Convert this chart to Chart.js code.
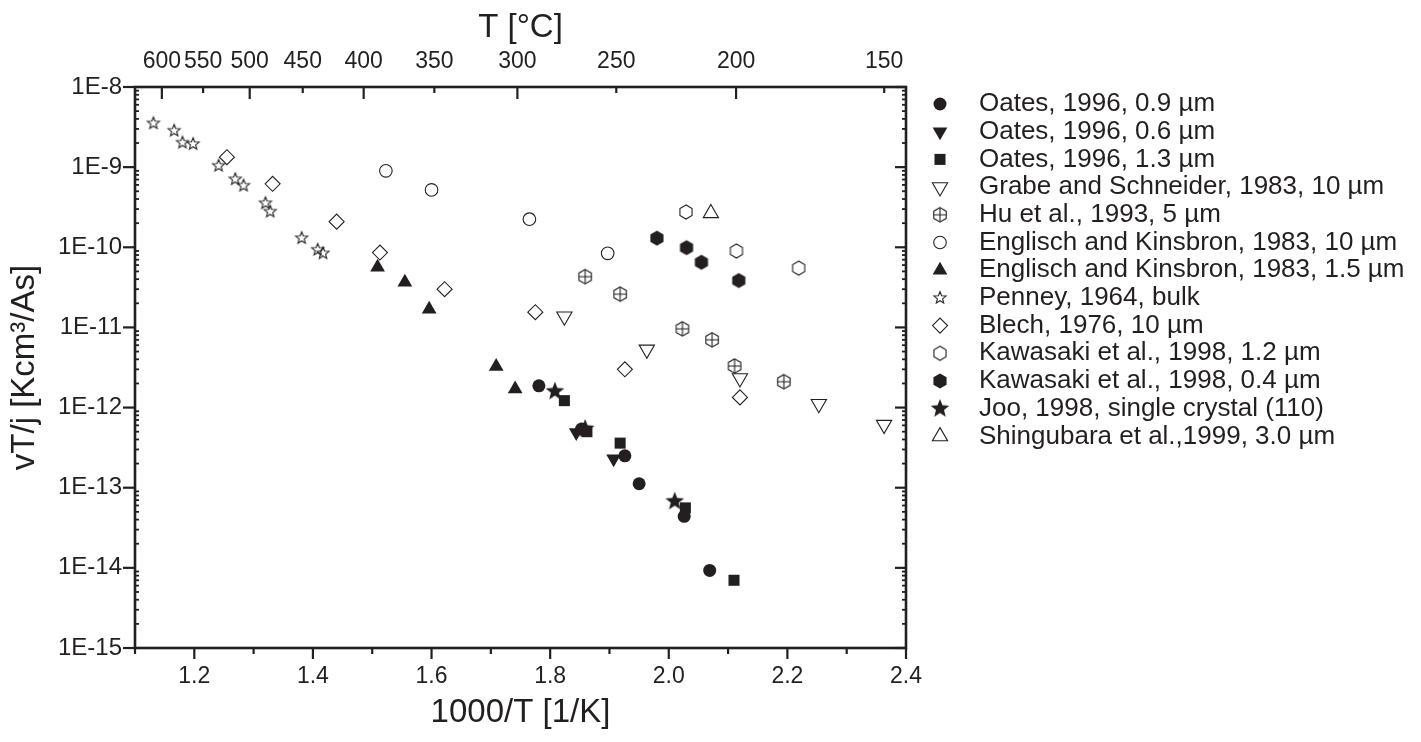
<!DOCTYPE html>
<html lang="en">
<head>
<meta charset="UTF-8">
<title>Drift velocity data vs 1000/T</title>
<style>
  html, body { margin: 0; padding: 0; background: #fff; }
  #wrap { width: 1421px; height: 742px; }
</style>
</head>
<body>
<div id="wrap"><canvas id="chart" width="1421" height="742"></canvas></div>
<script src="https://cdn.jsdelivr.net/npm/chart.js@4"></script>
<script>
// ---- axis ticks ----
const xTicks = [1.2, 1.4, 1.6, 1.8, 2.0, 2.2, 2.4];
const xMinor = [1.1, 1.3, 1.5, 1.7, 1.9, 2.1, 2.3];
const tempLabels = [600, 550, 500, 450, 400, 350, 300, 250, 200, 150];
const tempMajor = [600, 500, 400, 300, 200];
const yDecades = [1e-15, 1e-14, 1e-13, 1e-12, 1e-11, 1e-10, 1e-9, 1e-8];
const yMinorMult = [2, 3, 4, 5, 6, 7, 8, 9];

// ---- data (1000/T, vT/j) ----
const oates09X = [1.781, 1.853, 1.926, 1.950, 2.026, 2.069];
const oates09Y = [1.87e-12, 5.4e-13, 2.5e-13, 1.12e-13, 4.4e-14, 9.3e-15];
const oates06X = [1.844, 1.907];
const oates06Y = [4.9e-13, 2.3e-13];
const oates13X = [1.824, 1.862, 1.918, 2.028, 2.110];
const oates13Y = [1.22e-12, 5.0e-13, 3.6e-13, 5.6e-14, 7.0e-15];
const grabeX = [1.824, 1.963, 2.120, 2.253, 2.363];
const grabeY = [1.37e-11, 5.3e-12, 2.33e-12, 1.11e-12, 6.1e-13];
const huX = [1.859, 1.918, 2.023, 2.073, 2.111, 2.194];
const huY = [4.3e-11, 2.6e-11, 9.6e-12, 7.0e-12, 3.3e-12, 2.1e-12];
const englisch10X = [1.523, 1.600, 1.765, 1.897];
const englisch10Y = [9.0e-10, 5.2e-10, 2.24e-10, 8.4e-11];
const englisch15X = [1.509, 1.555, 1.596, 1.709, 1.741];
const englisch15Y = [5.65e-11, 3.67e-11, 1.69e-11, 3.26e-12, 1.70e-12];
const penneyX = [1.131, 1.166, 1.180, 1.198, 1.241, 1.269, 1.283, 1.320, 1.328, 1.381, 1.408, 1.417];
const penneyY = [3.52e-9, 2.85e-9, 2.02e-9, 1.94e-9, 1.04e-9, 7.06e-10, 5.88e-10, 3.55e-10, 2.79e-10, 1.30e-10, 9.3e-11, 8.4e-11];
const blechX = [1.255, 1.332, 1.440, 1.513, 1.622, 1.775, 1.926, 2.120];
const blechY = [1.33e-9, 6.2e-10, 2.09e-10, 8.6e-11, 3.0e-11, 1.55e-11, 3.0e-12, 1.34e-12];
const kawa12X = [2.029, 2.114, 2.219];
const kawa12Y = [2.76e-10, 9.0e-11, 5.5e-11];
const kawa04X = [1.980, 2.030, 2.055, 2.118];
const kawa04Y = [1.30e-10, 9.9e-11, 6.5e-11, 3.85e-11];
const jooX = [1.808, 1.859, 2.010];
const jooY = [1.59e-12, 5.45e-13, 6.75e-14];
const shinguX = [2.071];
const shinguY = [2.66e-10];

const ink = '#231f20';
const font = '"Liberation Sans", Arial, Helvetica, sans-serif';

// custom marker shapes (Chart.js has no 5-point star or hexagon)
function marker(size, draw) {
  const c = document.createElement('canvas');
  c.width = c.height = size;
  const g = c.getContext('2d');
  g.strokeStyle = ink;
  g.fillStyle = ink;
  g.lineWidth = 1.1;
  draw(g, size / 2);
  return c;
}
function hexPath(g, c, r) {
  g.beginPath();
  for (let k = 0; k < 6; k++) {
    const a = Math.PI / 2 + k * Math.PI / 3;
    const px = c + r * Math.cos(a), py = c - r * Math.sin(a);
    if (k) g.lineTo(px, py); else g.moveTo(px, py);
  }
  g.closePath();
}
function starPath(g, c, r, inner) {
  g.beginPath();
  for (let k = 0; k < 10; k++) {
    const rr = k % 2 ? inner : r;
    const a = -Math.PI / 2 + k * Math.PI / 5;
    const px = c + rr * Math.cos(a), py = c + rr * Math.sin(a);
    if (k) g.lineTo(px, py); else g.moveTo(px, py);
  }
  g.closePath();
}
const openStar = marker(18, (g, c) => { starPath(g, c, 6.3, 2.7); g.stroke(); });
const fullStar = marker(24, (g, c) => { starPath(g, c, 9.8, 4.2); g.fill(); });
const openHex = marker(20, (g, c) => { hexPath(g, c, 7); g.stroke(); });
const fullHex = marker(20, (g, c) => { hexPath(g, c, 7.6); g.fill(); });
const crossHex = marker(20, (g, c) => {
  hexPath(g, c, 7.2); g.stroke();
  g.beginPath();
  g.moveTo(c, c - 7.2); g.lineTo(c, c + 7.2);
  g.moveTo(c - 6.3, c); g.lineTo(c + 6.3, c);
  g.stroke();
});

function pts(xs, ys) { return xs.map((x, i) => ({ x: x, y: ys[i] })); }
function series(label, xs, ys, style, radius, filled, rotation) {
  return {
    label: label,
    data: pts(xs, ys),
    pointStyle: style,
    pointRadius: radius,
    pointHoverRadius: radius,
    pointRotation: rotation || 0,
    backgroundColor: filled ? ink : 'rgba(0,0,0,0)',
    borderColor: ink,
    borderWidth: filled ? 0 : 1.1,
    showLine: false
  };
}

const datasets = [
  series('Oates, 1996, 0.9 µm', oates09X, oates09Y, 'circle', 6.5, true),
  series('Oates, 1996, 0.6 µm', oates06X, oates06Y, 'triangle', 8.5, true, 180),
  series('Oates, 1996, 1.3 µm', oates13X, oates13Y, 'rect', 7.8, true),
  series('Grabe and Schneider, 1983, 10 µm', grabeX, grabeY, 'triangle', 8.8, false, 180),
  series('Hu et al., 1993, 5 µm', huX, huY, crossHex, 7, false),
  series('Englisch and Kinsbron, 1983, 10 µm', englisch10X, englisch10Y, 'circle', 6.3, false),
  series('Englisch and Kinsbron, 1983, 1.5 µm', englisch15X, englisch15Y, 'triangle', 8.5, true),
  series('Penney, 1964, bulk', penneyX, penneyY, openStar, 6, false),
  series('Blech, 1976, 10 µm', blechX, blechY, 'rectRot', 7.5, false),
  series('Kawasaki et al., 1998, 1.2 µm', kawa12X, kawa12Y, openHex, 7, false),
  series('Kawasaki et al., 1998, 0.4 µm', kawa04X, kawa04Y, fullHex, 7.5, true),
  series('Joo, 1998, single crystal (110)', jooX, jooY, fullStar, 9, true),
  series('Shingubara et al.,1999, 3.0 µm', shinguX, shinguY, 'triangle', 8.8, false)
];

function line(ctx, x1, y1, x2, y2) {
  ctx.beginPath(); ctx.moveTo(x1, y1); ctx.lineTo(x2, y2); ctx.stroke();
}

// frame with inward / outward ticks like the original plot
const framePlugin = {
  id: 'frame',
  beforeDatasetsDraw(chart) {
    const { ctx, chartArea: a, scales } = chart;
    const x = scales.x, y = scales.y;
    ctx.save();
    ctx.strokeStyle = ink;
    ctx.lineWidth = 2.6;
    ctx.strokeRect(a.left, a.top, a.right - a.left, a.bottom - a.top);
    ctx.lineWidth = 2.2;
    xTicks.forEach(v => line(ctx, x.getPixelForValue(v), a.bottom, x.getPixelForValue(v), a.bottom + 11));
    xMinor.forEach(v => line(ctx, x.getPixelForValue(v), a.bottom, x.getPixelForValue(v), a.bottom + 6));
    tempLabels.forEach(t => {
      const px = x.getPixelForValue(1000 / (t + 273.15));
      line(ctx, px, a.top, px, a.top + (tempMajor.includes(t) ? 12 : 6));
    });
    yDecades.forEach(v => {
      const py = y.getPixelForValue(v);
      line(ctx, a.left - 12, py, a.left, py);
      line(ctx, a.right - 11, py, a.right, py);
    });
    ctx.lineWidth = 1.8;
    yDecades.slice(0, -1).forEach(d => {
      yMinorMult.forEach(m => {
        const py = y.getPixelForValue(d * m);
        line(ctx, a.left, py, a.left + 4, py);
        line(ctx, a.right - 4, py, a.right, py);
      });
    });
    ctx.restore();
  }
};

// legend on the right, one row per data set
const legendX = 940, legendTextX = 979, legendTop = 104, legendRow = 27.7;
const legendPlugin = {
  id: 'sideLegend',
  afterDraw(chart) {
    const ctx = chart.ctx;
    chart.data.datasets.forEach((ds, i) => {
      const yy = legendTop + i * legendRow;
      ctx.save();
      ctx.fillStyle = ds.backgroundColor;
      ctx.strokeStyle = ds.borderColor;
      ctx.lineWidth = ds.borderWidth;
      Chart.helpers.drawPoint(ctx, {
        pointStyle: ds.pointStyle, radius: ds.pointRadius,
        rotation: ds.pointRotation, borderWidth: ds.borderWidth
      }, legendX, yy);
      ctx.fillStyle = ink;
      ctx.font = '26px ' + font;
      ctx.textBaseline = 'middle';
      ctx.textAlign = 'left';
      ctx.fillText(ds.label, legendTextX, yy);
      ctx.restore();
    });
  }
};

const ctx = document.getElementById('chart').getContext('2d');
new Chart(ctx, {
  type: 'scatter',
  data: { datasets: datasets },
  options: {
    responsive: false,
    animation: false,
    events: [],
    layout: { padding: { left: 0, top: 0, bottom: 0, right: 515 } },
    plugins: { legend: { display: false }, tooltip: { enabled: false } },
    scales: {
      x: {
        type: 'linear', position: 'bottom', min: 1.1, max: 2.4,
        afterBuildTicks: axis => { axis.ticks = xTicks.map(v => ({ value: v })); },
        afterFit: axis => { axis.height = 94; },
        grid: { display: false, drawTicks: false },
        border: { display: false },
        ticks: { color: ink, font: { family: font, size: 23 }, padding: 15, maxRotation: 0, autoSkip: false,
                 callback: v => v.toFixed(1) },
        title: { display: true, text: '1000/T [1/K]', color: ink, font: { family: font, size: 33 }, padding: { bottom: 9 } }
      },
      x2: {
        type: 'linear', position: 'top', min: 1.1, max: 2.4,
        afterBuildTicks: axis => { axis.ticks = tempLabels.map(t => ({ value: 1000 / (t + 273.15) })); },
        afterFit: axis => { axis.height = 87; },
        grid: { display: false, drawTicks: false },
        border: { display: false },
        ticks: { color: ink, font: { family: font, size: 23 }, padding: 12, maxRotation: 0, autoSkip: false,
                 callback: v => String(Math.round(1000 / v - 273.15)) },
        title: { display: true, text: 'T [°C]', color: ink, font: { family: font, size: 33 }, padding: { top: 8 } }
      },
      y: {
        type: 'logarithmic', position: 'left', min: 1e-15, max: 1e-8,
        afterBuildTicks: axis => { axis.ticks = yDecades.map(v => ({ value: v })); },
        afterFit: axis => { axis.width = 135; },
        grid: { display: false, drawTicks: false },
        border: { display: false },
        ticks: { color: ink, font: { family: font, size: 24 }, padding: 13, autoSkip: false,
                 callback: v => '1E' + Math.round(Math.log10(v)) },
        title: { display: true, text: 'vT/j [Kcm³/As]', color: ink, font: { family: font, size: 33 }, padding: { top: 5 } }
      }
    }
  },
  plugins: [framePlugin, legendPlugin]
});
</script>
</body>
</html>
